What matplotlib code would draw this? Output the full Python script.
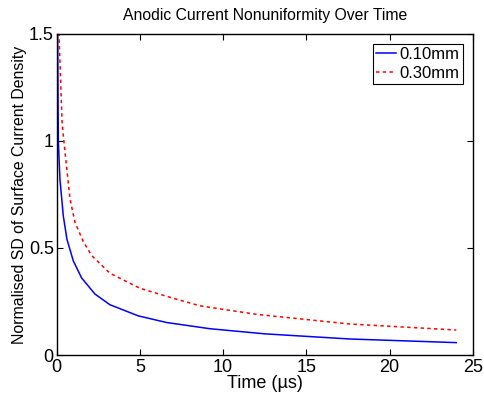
import numpy as np
import matplotlib
matplotlib.use('Agg')
import matplotlib.pyplot as plt

plt.rcParams['font.family'] = ['Liberation Sans', 'DejaVu Sans']

# Data
t_010 = [0.02, 0.1, 0.2, 0.4, 0.62, 1.0, 1.5, 2.3, 3.2, 4.9, 6.6, 9.2, 12.5, 17.6, 21.0, 24.0]
sd_010 = [2.0, 1.0, 0.82, 0.65, 0.54, 0.44, 0.36, 0.285, 0.235, 0.183, 0.152, 0.123, 0.099, 0.075, 0.066, 0.058]

t_030 = [0.02, 0.14, 0.33, 0.5, 0.8, 1.1, 1.6, 2.1, 3.2, 5.0, 6.7, 8.6, 12.0, 17.6, 21.0, 24.0]
sd_030 = [3.0, 1.5, 1.08, 0.95, 0.73, 0.62, 0.53, 0.465, 0.382, 0.312, 0.272, 0.23, 0.19, 0.145, 0.13, 0.117]

x_ticks = [0, 5, 10, 15, 20, 25]
y_ticks = [0, 0.5, 1, 1.5]
y_tick_labels = ['0', '0.5', '1', '1.5']

fig = plt.figure(figsize=(4.84, 4.03), dpi=100)
ax = fig.add_axes([0.117, 0.119, 0.860, 0.797])

ax.plot(t_010, sd_010, color='blue', lw=1.1, label='0.10mm')
ax.plot(t_030, sd_030, color='red', lw=1.1, linestyle=(0, (2.2, 2.2)), label='0.30mm')

ax.set_xlim(0, 25)
ax.set_ylim(0, 1.5)
ax.set_xticks(x_ticks)
ax.set_yticks(y_ticks)
ax.set_yticklabels(y_tick_labels)
ax.tick_params(direction='in', top=True, right=True, length=4, width=0.8,
               labelsize=13, pad=2)
ax.tick_params(axis='x', pad=3)
for s in ax.spines.values():
    s.set_linewidth(1.0)

ax.set_xlabel('Time (µs)', fontsize=13, labelpad=-1)
ax.set_ylabel('Normalised SD of Surface Current Density', fontsize=11.4, labelpad=1)
ax.set_title('Anodic Current Nonuniformity Over Time', fontsize=11.3, pad=10)

leg = ax.legend(loc='upper right', fontsize=12, handlelength=1.2, handletextpad=0.2,
                borderpad=0.2, labelspacing=0.2, borderaxespad=0.6, fancybox=False,
                framealpha=1)
leg.get_frame().set_edgecolor('black')
leg.get_frame().set_linewidth(0.8)

fig.savefig('out.png', dpi=100)
